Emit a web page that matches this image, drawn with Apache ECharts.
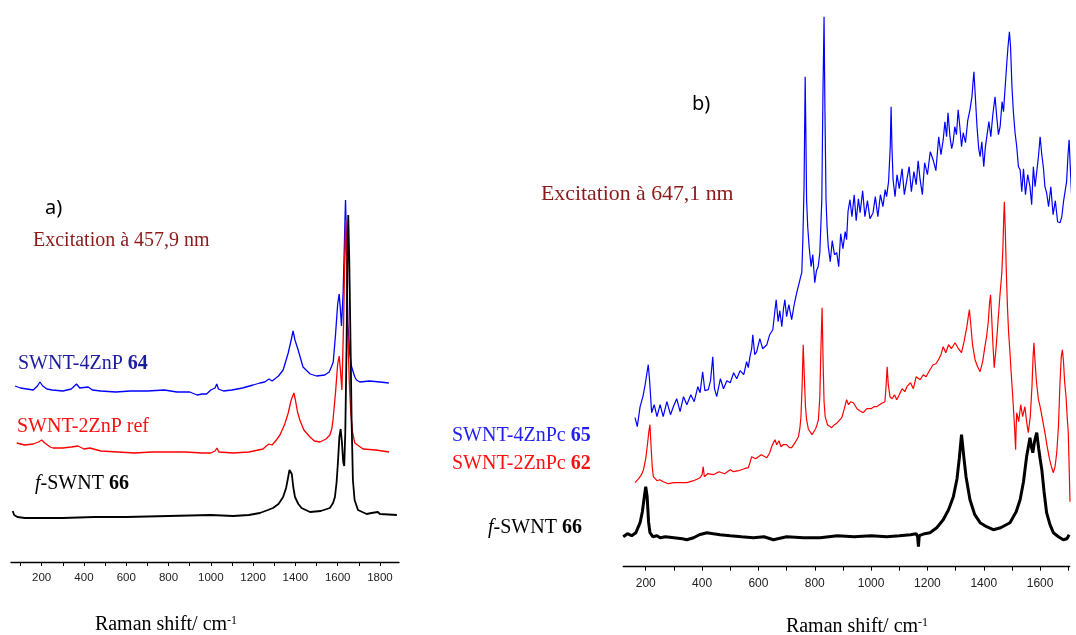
<!DOCTYPE html>
<html><head><meta charset="utf-8">
<script src="https://cdn.jsdelivr.net/npm/echarts@6/dist/echarts.min.js"></script>
<style>html,body{margin:0;padding:0;background:#fff}#c{width:1076px;height:635px}</style>
</head><body><div id="c"></div>
<script>
// ---- panel a (excitation 457.9 nm): [Raman shift cm-1, intensity a.u.] ----
const aBlue = [[74,176],[100,174],[130,173],[160,172],[180,176],[192,180],[205,176],[225,173],[250,172],[300,171],[340,173],[365,178],[380,174],[420,175],[440,172],[480,171],[550,170],[620,171],[700,171],[780,172],[840,170],[900,170],[935,167],[960,168],[980,168],[1000,172],[1020,174],[1028,178],[1036,173],[1060,171],[1100,172],[1150,174],[1200,177],[1232,179],[1255,180],[1275,183],[1290,181],[1320,186],[1342,192],[1366,209],[1380,222],[1389,231],[1398,222],[1413,212],[1436,195],[1470,188],[1500,186],[1539,187],[1560,190],[1570,195],[1579,200],[1590,228],[1600,258],[1607,268],[1612,255],[1618,236],[1626,270],[1632,320],[1637,362],[1642,320],[1648,239],[1656,210],[1666,195],[1681,185],[1689,182],[1705,180],[1750,181],[1800,180],[1842,179]];
const aRed = [[82,119],[120,117],[160,118],[185,120],[200,122],[215,119],[240,115],[254,114],[300,114],[340,115],[372,116],[400,113],[428,114],[480,111],[560,110],[640,109],[720,110],[800,110],[880,110],[960,109],[1000,109],[1020,111],[1029,114],[1038,110],[1105,109],[1180,110],[1247,113],[1262,116],[1275,118],[1290,117],[1310,122],[1327,127],[1350,138],[1366,149],[1380,162],[1393,169],[1400,162],[1410,150],[1421,142],[1440,132],[1469,125],[1490,121],[1516,120],[1545,123],[1563,127],[1572,133],[1578,142],[1590,170],[1600,198],[1607,206],[1613,192],[1620,172],[1628,240],[1633,300],[1638,342],[1643,290],[1648,230],[1655,180],[1662,149],[1670,130],[1681,119],[1689,117],[1720,113],[1780,112],[1843,110]];
const aBlack = [[63,51],[70,47],[85,45],[120,44],[160,44],[300,44],[450,45],[600,45],[800,46],[1000,47],[1105,46],[1180,47],[1232,49],[1270,52],[1294,54],[1320,58],[1342,65],[1356,74],[1366,85],[1372,92],[1377,94],[1383,88],[1390,75],[1398,65],[1414,58],[1429,54],[1469,50],[1520,51],[1563,54],[1578,59],[1587,65],[1595,80],[1601,99],[1608,125],[1614,133],[1620,120],[1626,100],[1631,96],[1636,130],[1642,215],[1646,300],[1650,347],[1655,300],[1661,215],[1666,140],[1672,82],[1680,62],[1696,52],[1737,48],[1760,49],[1790,50],[1800,48],[1880,47]];

// ---- panel b (excitation 647.1 nm) ----
const bBlue = [[162,149],[170,140],[180,160],[190,170],[198,182],[205,195],[209,202],[214,185],[221,154],[230,162],[240,150],[251,162],[262,150],[275,165],[288,152],[298,160],[310,168],[322,155],[334,170],[346,162],[360,172],[372,165],[385,180],[393,174],[402,195],[410,176],[422,177],[430,186],[438,210],[444,178],[452,170],[465,188],[476,178],[488,186],[500,184],[512,194],[523,188],[535,196],[548,192],[558,205],[564,199],[570,210],[576,218],[580,232],[587,212],[594,215],[605,228],[615,218],[630,222],[640,232],[651,237],[657,252],[663,267],[670,245],[676,256],[683,240],[689,258],[694,267],[700,250],[708,262],[718,247],[727,262],[736,274],[745,284],[750,290],[754,294],[758,330],[762,380],[766,490],[769,420],[771,367],[775,340],[780,320],[787,300],[793,312],[800,284],[806,296],[812,300],[818,314],[825,367],[829,470],[833,550],[836,460],[840,367],[844,338],[848,320],[855,305],[862,326],[870,312],[878,314],[885,300],[892,333],[900,318],[908,335],[913,327],[918,355],[925,367],[932,350],[940,372],[947,346],[955,368],[961,354],[970,376],[978,350],[987,366],[996,348],[1007,354],[1015,370],[1024,350],[1033,372],[1042,360],[1050,377],[1055,370],[1062,385],[1068,420],[1071,460],[1074,420],[1078,387],[1085,370],[1092,392],[1100,378],[1110,398],[1118,372],[1127,387],[1135,400],[1143,375],[1152,395],[1160,382],[1167,406],[1174,387],[1182,372],[1190,404],[1200,392],[1210,415],[1220,407],[1230,396],[1240,430],[1248,412],[1256,427],[1262,445],[1268,430],[1273,454],[1280,430],[1286,418],[1291,424],[1297,440],[1303,432],[1309,457],[1315,440],[1321,420],[1327,434],[1335,424],[1343,446],[1351,457],[1358,470],[1362,485],[1365,495],[1370,470],[1376,440],[1382,418],[1387,410],[1393,425],[1400,400],[1405,418],[1410,420],[1418,445],[1425,430],[1432,452],[1440,470],[1446,450],[1452,432],[1458,440],[1465,465],[1470,455],[1476,480],[1482,505],[1486,520],[1491,535],[1495,520],[1500,480],[1505,455],[1511,434],[1517,420],[1523,400],[1529,397],[1535,375],[1541,398],[1548,372],[1556,392],[1564,380],[1570,362],[1576,400],[1582,380],[1588,395],[1594,410],[1600,430],[1606,412],[1612,398],[1617,380],[1623,374],[1630,360],[1638,380],[1646,352],[1654,366],[1662,345],[1671,344],[1677,350],[1683,365],[1689,367],[1694,385],[1699,412],[1703,427],[1707,400],[1712,370],[1718,356],[1724,340]];
const bRed = [[162,84],[175,88],[185,92],[192,97],[200,108],[206,122],[211,135],[215,142],[219,120],[223,100],[227,90],[240,86],[250,87],[262,85],[280,83],[300,84],[320,84],[346,84],[370,86],[393,89],[400,92],[404,100],[408,90],[420,93],[440,92],[460,95],[480,93],[500,97],[511,95],[530,96],[550,98],[564,99],[570,104],[576,110],[590,108],[610,112],[630,109],[640,114],[647,120],[653,124],[659,127],[665,122],[673,126],[680,120],[688,122],[700,122],[710,119],[718,119],[730,124],[742,130],[747,138],[751,150],[755,180],[759,222],[763,190],[767,160],[771,147],[777,138],[783,135],[790,132],[795,132],[803,138],[808,142],[813,147],[818,170],[822,220],[826,259],[830,200],[833,165],[837,150],[845,142],[852,140],[860,139],[870,142],[880,144],[896,149],[905,158],[913,167],[920,162],[928,165],[937,164],[950,158],[960,156],[972,154],[985,158],[1000,158],[1010,160],[1020,160],[1035,163],[1049,165],[1053,180],[1057,200],[1061,182],[1067,170],[1075,168],[1083,172],[1091,167],[1100,172],[1110,178],[1120,175],[1127,180],[1140,184],[1150,178],[1160,190],[1174,187],[1185,192],[1195,190],[1209,197],[1220,202],[1230,203],[1239,207],[1248,212],[1256,220],[1265,214],[1275,222],[1285,218],[1298,224],[1310,218],[1321,214],[1330,225],[1340,240],[1345,250],[1349,257],[1353,245],[1360,222],[1369,207],[1378,200],[1387,195],[1396,205],[1404,220],[1410,230],[1416,245],[1420,262],[1424,272],[1428,250],[1432,225],[1437,199],[1444,220],[1451,247],[1457,270],[1464,294],[1468,320],[1471,350],[1473,365],[1476,340],[1480,295],[1484,260],[1488,235],[1493,214],[1497,195],[1502,174],[1507,150],[1510,135],[1513,117],[1515,140],[1517,154],[1524,145],[1531,162],[1538,150],[1546,160],[1552,145],[1558,134],[1565,150],[1571,180],[1575,210],[1578,224],[1582,205],[1587,185],[1594,167],[1600,160],[1608,148],[1617,134],[1625,120],[1633,108],[1640,100],[1647,94],[1653,100],[1659,114],[1665,140],[1670,180],[1675,210],[1679,217],[1683,205],[1687,185],[1692,170],[1696,150],[1700,134],[1703,100],[1706,65]];
const bBlack = [[120,30],[135,33],[150,31],[165,34],[180,44],[188,55],[194,68],[200,80],[205,70],[210,45],[215,34],[225,30],[240,31],[251,29],[270,30],[300,29],[330,28],[346,27],[370,29],[390,32],[417,34],[440,33],[464,32],[500,31],[540,30],[582,29],[620,30],[653,27],[700,30],[760,29],[819,29],[880,31],[940,30],[1000,31],[1056,30],[1100,31],[1140,32],[1160,33],[1165,30],[1168,20],[1171,31],[1190,33],[1209,34],[1233,39],[1256,47],[1275,57],[1292,70],[1305,88],[1313,108],[1321,132],[1329,110],[1337,90],[1351,67],[1368,52],[1387,44],[1410,40],[1434,37],[1460,39],[1493,44],[1515,55],[1529,67],[1541,85],[1552,110],[1564,129],[1569,120],[1574,114],[1580,125],[1588,134],[1595,118],[1600,108],[1606,97],[1614,75],[1623,54],[1635,42],[1647,34],[1665,30],[1682,27],[1695,28],[1703,32]];

// ---- axis ticks / labels ----
const aTicks = [100,200,300,400,500,600,700,800,900,1000,1100,1200,1300,1400,1500,1600,1700,1800];
const aLabels = [200,400,600,800,1000,1200,1400,1600,1800];
const bTicks = [200,300,400,500,600,700,800,900,1000,1100,1200,1300,1400,1500,1600,1700];
const bLabels = [200,400,600,800,1000,1200,1400,1600];

const chart = echarts.init(document.getElementById('c'), null, {renderer:'canvas'});
function xAx(gi, mn, mx, ticks, labels, fs, mg){
  return {type:'value', gridIndex:gi, min:mn, max:mx,
    axisLine:{show:true, onZero:false, lineStyle:{color:'#000', width:1.3}},
    axisTick:{show:true, customValues:ticks, length:4, inside:false, lineStyle:{color:'#000', width:1}},
    axisLabel:{show:true, customValues:labels, margin:mg, fontSize:fs, color:'#222', fontFamily:'Liberation Sans, Arial, sans-serif', formatter:function(v){return String(v);}},
    splitLine:{show:false}};
}
function ser(xi, data, color, w){
  return {type:'line', xAxisIndex:xi, yAxisIndex:xi, data:data, showSymbol:false, symbol:'none', clip:false,
    lineStyle:{color:color, width:w}, itemStyle:{color:color}, animation:false, silent:true};
}
const serif = 'Liberation Serif, Times New Roman, serif';
chart.setOption({
  animation:false,
  backgroundColor:'#fff',
  grid:[
    {left:11, width:388, top:190, height:372, outerBoundsMode:'none', containLabel:false},
    {left:623.2, width:446.5, top:10, height:556.7, outerBoundsMode:'none', containLabel:false}
  ],
  xAxis:[xAx(0,55,1890,aTicks,aLabels,11.5,10), xAx(1,120,1705,bTicks,bLabels,12,11)],
  yAxis:[{type:'value', gridIndex:0, min:0, max:372, show:false},
         {type:'value', gridIndex:1, min:0, max:556.7, show:false}],
  series:[ser(0,aBlue,'#0000ff',1.3), ser(0,aRed,'#ff0000',1.3), ser(0,aBlack,'#000',1.8),
          ser(1,bBlue,'#0000ff',1.2), ser(1,bRed,'#ff0000',1.2), ser(1,bBlack,'#000',3)],
  graphic:[
    {type:'text', x:45, y:208, silent:true, style:{text:'a)', font:'20px Noto Sans, sans-serif', fill:'#000', textVerticalAlign:'middle'}},
    {type:'text', x:692, y:104, silent:true, style:{text:'b)', font:'20px Noto Sans, sans-serif', fill:'#000', textVerticalAlign:'middle'}},
    {type:'text', x:33, y:241, silent:true, style:{text:'Excitation à 457,9 nm', font:'20px '+serif, fill:'#8b1a1a', textVerticalAlign:'middle'}},
    {type:'text', x:541, y:194, silent:true, style:{text:'Excitation à 647,1 nm', font:'21.8px '+serif, fill:'#8b1a1a', textVerticalAlign:'middle'}},
    {type:'text', x:18, y:364, silent:true, style:{text:'SWNT-4ZnP {b|64}', font:'20px '+serif, fill:'#1c1ca0', textVerticalAlign:'middle', rich:{b:{fontWeight:'bold', fontSize:20, fontFamily:serif, fill:'#1c1ca0'}}}},
    {type:'text', x:17, y:427, silent:true, style:{text:'SWNT-2ZnP ref', font:'20px '+serif, fill:'#ff1010', textVerticalAlign:'middle'}},
    {type:'text', x:35, y:484, silent:true, style:{text:'{i|f}-SWNT {b|66}', font:'20px '+serif, fill:'#000', textVerticalAlign:'middle', rich:{i:{fontStyle:'italic', fontSize:20, fontFamily:serif}, b:{fontWeight:'bold', fontSize:20, fontFamily:serif}}}},
    {type:'text', x:452, y:436, silent:true, style:{text:'SWNT-4ZnPc {b|65}', font:'20px '+serif, fill:'#1f1ff0', textVerticalAlign:'middle', rich:{b:{fontWeight:'bold', fontSize:20, fontFamily:serif, fill:'#1f1ff0'}}}},
    {type:'text', x:452, y:464, silent:true, style:{text:'SWNT-2ZnPc {b|62}', font:'20px '+serif, fill:'#ff1010', textVerticalAlign:'middle', rich:{b:{fontWeight:'bold', fontSize:20, fontFamily:serif, fill:'#ff1010'}}}},
    {type:'text', x:488, y:528, silent:true, style:{text:'{i|f}-SWNT {b|66}', font:'20px '+serif, fill:'#000', textVerticalAlign:'middle', rich:{i:{fontStyle:'italic', fontSize:20, fontFamily:serif}, b:{fontWeight:'bold', fontSize:20, fontFamily:serif}}}},
    {type:'text', x:166, y:625, silent:true, style:{text:'Raman shift/ cm{s|-1}', font:'20px '+serif, fill:'#000', textAlign:'center', textVerticalAlign:'middle', rich:{s:{fontSize:12, fontFamily:serif, verticalAlign:'top', padding:[0,0,8,0]}}}},
    {type:'text', x:857, y:627, silent:true, style:{text:'Raman shift/ cm{s|-1}', font:'20px '+serif, fill:'#000', textAlign:'center', textVerticalAlign:'middle', rich:{s:{fontSize:12, fontFamily:serif, verticalAlign:'top', padding:[0,0,8,0]}}}}
  ]
});
</script></body></html>
